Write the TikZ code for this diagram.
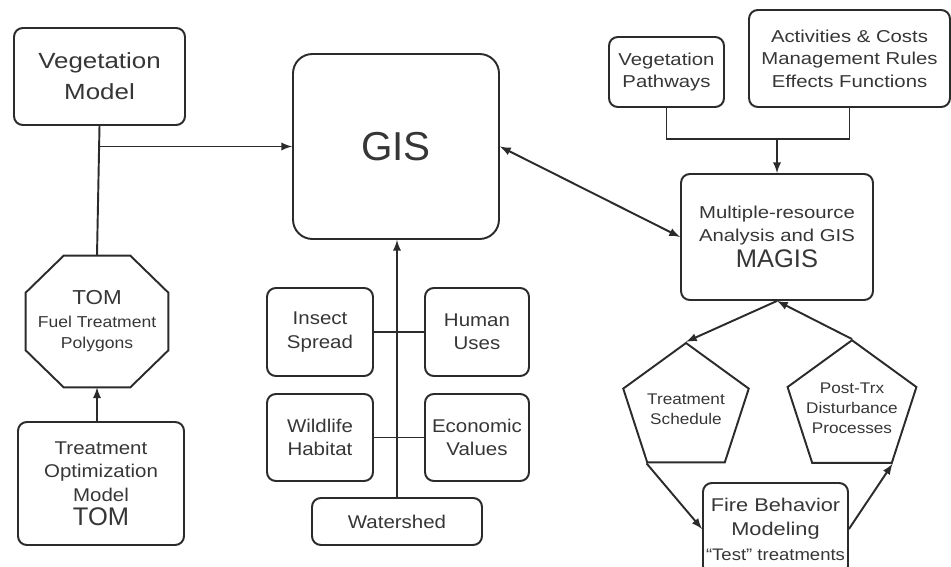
\documentclass[tikz,border=0pt]{standalone}
\usepackage{fontspec}
\setmainfont{Liberation Sans}
\newfontfamily\widea[FakeStretch=1.18,Ligatures=TeX]{Liberation Sans}
\newfontfamily\wideb[FakeStretch=1.11,Ligatures=TeX]{Liberation Sans}
\usepackage{tikz}
\usetikzlibrary{arrows,calc,positioning,shapes.geometric}
\definecolor{inkgray}{HTML}{2B2B2B}
\definecolor{txtgray}{HTML}{363636}
\tikzset{
  box/.style={draw=inkgray, line width=1.1pt, rounded corners=5pt, align=center, text=txtgray, inner sep=0pt},
  poly/.style={draw=inkgray, line width=1.1pt, regular polygon, align=center, text=txtgray, inner sep=-4pt},
  link/.style={draw=inkgray, line width=1.1pt},
  arr/.style={link, -latex},
  biarr/.style={link, latex-latex}
}
\newcommand{\fs}[2]{\fontsize{#1}{#2}\selectfont}

\begin{document}
\begin{tikzpicture}[x=0.02cm, y=-0.02cm]
\useasboundingbox (0,0) rectangle (951,567);
% left column
\node[box, minimum width=3.42cm, minimum height=1.94cm, font=\widea\fs{12.5}{17.5}] (vegmod) at (99.5,76.5) {Vegetation\\Model};
\node[align=center, text=txtgray, inner sep=0pt, minimum width=2.84cm, minimum height=2.62cm] (tomfuel) at (97,321.5)
  {{\wideb\fs{11.5}{13}TOM}\\[1pt]{\wideb\fs{9}{12}Fuel Treatment}\\{\wideb\fs{9}{12}Polygons}};
\draw[link] ($(tomfuel.north west)+(38,0)$) -- ($(tomfuel.north east)+(-38,0)$) -- ($(tomfuel.north east)+(0,37)$)
  -- ($(tomfuel.south east)+(0,-37)$) -- ($(tomfuel.south east)+(-38,0)$) -- ($(tomfuel.south west)+(38,0)$)
  -- ($(tomfuel.south west)+(0,-37)$) -- ($(tomfuel.north west)+(0,37)$) -- cycle;
\node[box, minimum width=3.32cm, minimum height=2.46cm, font=\wideb\fs{10.5}{13.5}] (tomodel) at (101,483.5)
  {Treatment\\Optimization\\Model\\{\rmfamily\fs{14.5}{16}TOM}};
% GIS and its layers
\node[box, rounded corners=11pt, minimum width=4.12cm, minimum height=3.7cm, font=\fs{23}{26}] (gis) at (396,146.5) {GIS};
\node[box, minimum width=2.12cm, minimum height=1.76cm, font=\wideb\fs{10.5}{13.3}] (insect) at (320,332) {Insect\\Spread};
\node[box, minimum width=2.08cm, minimum height=1.76cm, font=\wideb\fs{10.5}{13.3}] (human) at (477,332) {Human\\Uses};
\node[box, minimum width=2.12cm, minimum height=1.74cm, font=\wideb\fs{10.5}{13.3}] (wildlife) at (320,437.5) {Wildlife\\Habitat};
\node[box, minimum width=2.08cm, minimum height=1.74cm, font=\wideb\fs{10.5}{13.3}] (econ) at (477,437.5) {Economic\\Values};
\node[box, minimum width=3.4cm, minimum height=0.94cm, font=\wideb\fs{10.5}{13}] (water) at (397,521.5) {Watershed};
% MAGIS side
\node[box, minimum width=2.3cm, minimum height=1.4cm, font=\widea\fs{9.8}{12.8}] (vegpath) at (666.5,72) {Vegetation\\Pathways};
\node[box, minimum width=4.02cm, minimum height=1.94cm, font=\widea\fs{9.8}{12.8}] (activ) at (849.5,58.5)
  {Activities \& Costs\\Management Rules\\Effects Functions};
\node[box, minimum width=3.84cm, minimum height=2.52cm, font=\widea\fs{9.8}{13}] (magis) at (777,237)
  {Multiple-resource\\Analysis and GIS\\[2pt]{\rmfamily\fs{14.5}{16}MAGIS}};
\node[poly, regular polygon sides=5, minimum size=2.64cm, font=\wideb\fs{8.8}{11.5}] (tsched) at (686,409) {Treatment\\Schedule};
\node[poly, regular polygon sides=5, minimum size=2.64cm, font=\wideb\fs{8.8}{11.5}] (posttrx) at (852,408) {Post-Trx\\Disturbance\\Processes};
\node[box, minimum width=2.9cm, minimum height=1.84cm, font=\widea\fs{10.5}{14}] (fire) at (775.5,529)
  {Fire Behavior\\Modeling\\{\wideb\fs{9.5}{12}“Test” treatments}};
% connectors
\draw[link] (vegmod.south) -- (tomfuel.north);
\draw[arr] (vegmod.south |- gis.west) -- (gis.west);
\draw[arr] (tomodel.north -| tomfuel.south) -- (tomfuel.south);
\draw[arr] (water.north) -- (water.north |- gis.south);
\draw[link] (insect.east) -- (human.west);
\draw[link] (wildlife.east) -- (econ.west);
\draw[biarr] (gis.east) -- (magis.west);
\coordinate (mjoin) at (777,139);
\draw[link] (vegpath.south) |- (mjoin) -| (activ.south);
\draw[arr] (mjoin) -- (magis.north);
\draw[arr] (magis.south) -- (tsched.corner 1);
\draw[arr] (posttrx.corner 1) -- (magis.south);
\draw[arr] (tsched.corner 3) -- (fire.west);
\draw[arr] (fire.east) -- (posttrx.corner 4);
\end{tikzpicture}
\end{document}
